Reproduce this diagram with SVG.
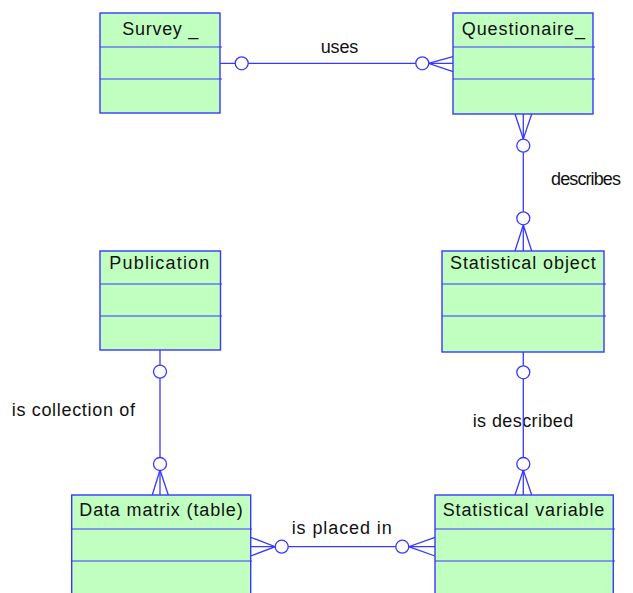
<svg xmlns="http://www.w3.org/2000/svg" width="633" height="593" viewBox="0 0 633 593">
<style>
.box{fill:#c0ffc0;stroke:#3838ff;stroke-width:1.4}
.div{stroke:#3838ff;stroke-width:1.2;fill:none}
.ln{stroke:#3838ff;stroke-width:1.3;fill:none}
.c{fill:#fff;stroke:#3838ff;stroke-width:1.3}
text{font-family:"Liberation Sans",Arial,sans-serif;font-size:18px;fill:#111}
</style>
<rect width="633" height="593" fill="#fff"/>
<g id="survey">
<rect class="box" x="100" y="13" width="120" height="100"/>
<line class="div" x1="100" y1="47" x2="222" y2="47"/>
<line class="div" x1="100" y1="79" x2="222" y2="79"/>
<text x="122.3" y="35" textLength="76" lengthAdjust="spacing">Survey _</text>
</g>
<g id="questionaire">
<rect class="box" x="453" y="13" width="140" height="101"/>
<line class="div" x1="453" y1="47" x2="595" y2="47"/>
<line class="div" x1="453" y1="79" x2="595" y2="79"/>
<text x="461.7" y="35" textLength="123.3" lengthAdjust="spacing">Questionaire_</text>
</g>
<g id="statistical-object">
<rect class="box" x="442" y="251" width="162" height="101"/>
<line class="div" x1="442" y1="284" x2="606" y2="284"/>
<line class="div" x1="442" y1="316" x2="606" y2="316"/>
<text x="450" y="268.5" textLength="145.7" lengthAdjust="spacing">Statistical object</text>
</g>
<g id="publication">
<rect class="box" x="100" y="251" width="120.5" height="99"/>
<line class="div" x1="100" y1="284" x2="222" y2="284"/>
<line class="div" x1="100" y1="316" x2="222" y2="316"/>
<text x="109.3" y="268.5" textLength="100" lengthAdjust="spacing">Publication</text>
</g>
<g id="data-matrix">
<rect class="box" x="71.7" y="495" width="179" height="110"/>
<line class="div" x1="71.7" y1="529" x2="252" y2="529"/>
<line class="div" x1="71.7" y1="561" x2="252" y2="561"/>
<text x="79.3" y="516" textLength="163.4" lengthAdjust="spacing">Data matrix (table)</text>
</g>
<g id="statistical-variable">
<rect class="box" x="435" y="495" width="178.3" height="110"/>
<line class="div" x1="435" y1="529" x2="615" y2="529"/>
<line class="div" x1="435" y1="561" x2="615" y2="561"/>
<text x="442.7" y="515.5" textLength="161.6" lengthAdjust="spacing">Statistical variable</text>
</g>
<g id="connectors">
<text x="320.7" y="53.3" textLength="37.6" lengthAdjust="spacing">uses</text>
<line class="ln" x1="220" y1="63.3" x2="453" y2="63.3"/>
<path class="ln" d="M453 56.7 L428.5 63.3 L453 71.7"/>
<circle class="c" cx="241.7" cy="63.3" r="6.5"/>
<circle class="c" cx="422.3" cy="63.3" r="6.5"/>
<text x="551" y="185" textLength="70" lengthAdjust="spacing">describes</text>
<line class="ln" x1="523.3" y1="114" x2="523.3" y2="251"/>
<path class="ln" d="M515 114 L523.3 139 L531.7 114"/>
<path class="ln" d="M515 251 L523.3 225 L531.7 251"/>
<circle class="c" cx="523.3" cy="145.7" r="6.5"/>
<circle class="c" cx="523.3" cy="218.3" r="6.5"/>
<text x="11.7" y="415.7" textLength="123.3" lengthAdjust="spacing">is collection of</text>
<line class="ln" x1="160" y1="350" x2="160" y2="495"/>
<path class="ln" d="M152.3 495 L160 470 L168.3 495"/>
<circle class="c" cx="160" cy="371.7" r="6.5"/>
<circle class="c" cx="160" cy="464" r="6.5"/>
<text x="472.7" y="426.7" textLength="100.6" lengthAdjust="spacing">is described</text>
<line class="ln" x1="523.3" y1="352" x2="523.3" y2="495"/>
<path class="ln" d="M515 495 L523.3 470 L531.7 495"/>
<circle class="c" cx="523.3" cy="372.3" r="6.5"/>
<circle class="c" cx="523.3" cy="464" r="6.5"/>
<text x="291.7" y="534" textLength="100" lengthAdjust="spacing">is placed in</text>
<line class="ln" x1="250.7" y1="546.7" x2="435" y2="546.7"/>
<path class="ln" d="M250.7 537.3 L275.2 546.7 L250.7 556"/>
<path class="ln" d="M435 537.3 L408.8 546.7 L435 556"/>
<circle class="c" cx="281.7" cy="546.7" r="6.5"/>
<circle class="c" cx="402.3" cy="546.7" r="6.5"/>
</g>
</svg>
